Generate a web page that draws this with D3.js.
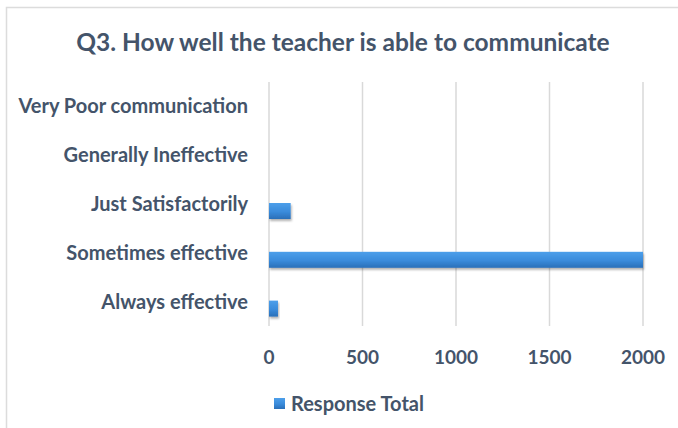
<!DOCTYPE html>
<html><head><meta charset="utf-8">
<script src="https://cdn.jsdelivr.net/npm/d3@7"></script>
<style>body{margin:0;background:#fff}svg{display:block}</style>
</head><body>
<script>
const categories = ["Very Poor communication","Generally Ineffective","Just Satisfactorily","Sometimes effective","Always effective"];
const values = [0, 0, 116, 2000, 48];
const xTicks = [0, 500, 1000, 1500, 2000];
const title = "Q3. How well the teacher is able to communicate";
const legendLabel = "Response Total";

const W = 678, H = 428;
const svg = d3.select("body").append("svg").attr("width", W).attr("height", H);
const defs = svg.append("defs");
const g1 = defs.append("linearGradient").attr("id","bar").attr("x1",0).attr("y1",0).attr("x2",0).attr("y2",1);
g1.append("stop").attr("offset","0%").attr("stop-color","#4d9fea");
g1.append("stop").attr("offset","55%").attr("stop-color","#3a8bdb");
g1.append("stop").attr("offset","100%").attr("stop-color","#2a6fb8");
const f = defs.append("filter").attr("id","sh").attr("x","-10%").attr("y","-30%").attr("width","130%").attr("height","180%");
f.append("feDropShadow").attr("dx",1).attr("dy",2).attr("stdDeviation",1.2).attr("flood-color","#000").attr("flood-opacity",0.3);

// frame
svg.append("rect").attr("x",6.5).attr("y",7.5).attr("width",W).attr("height",H).attr("fill","none").attr("stroke","#dcdcdc").attr("stroke-width",1.5);

const txt = "#44546a";
const font = "Lato, 'Open Sans', sans-serif";

svg.append("text").attr("x",343).attr("y",51).attr("text-anchor","middle")
  .attr("font-family",font).attr("font-size",24.5).attr("font-weight","bold").attr("fill",txt).text(title);

const x = d3.scaleLinear().domain([0,2000]).range([269,643]);
const y = d3.scaleBand().domain(categories).range([82,326]);

// gridlines
svg.append("g").selectAll("line").data(xTicks).join("line")
  .attr("x1",d=>x(d)).attr("x2",d=>x(d)).attr("y1",82).attr("y2",326)
  .attr("stroke","#d9d9d9").attr("stroke-width",1.5);

// bars
svg.append("g").selectAll("rect").data(categories.map((c,i)=>({c,v:values[i]})).filter(d=>d.v>0)).join("rect")
  .attr("x",x(0)).attr("y",d=>y(d.c)+y.bandwidth()/2-1).attr("height",16)
  .attr("width",d=>x(d.v)-x(0)).attr("fill","url(#bar)").attr("filter","url(#sh)");

// y labels
svg.append("g").selectAll("text").data(categories).join("text")
  .attr("x",248).attr("y",d=>y(d)+y.bandwidth()/2).attr("dy","0.35em").attr("text-anchor","end")
  .attr("font-family",font).attr("font-size",20).attr("font-weight","bold").attr("fill",txt).text(d=>d);

// x tick labels
svg.append("g").selectAll("text").data(xTicks).join("text")
  .attr("x",d=>x(d)).attr("y",357).attr("dy","0.35em").attr("text-anchor","middle")
  .attr("font-family",font).attr("font-size",19).attr("font-weight","bold").attr("fill",txt).text(d=>d);

// legend
svg.append("rect").attr("x",274).attr("y",398).attr("width",11).attr("height",11).attr("fill","url(#bar)");
svg.append("text").attr("x",291).attr("y",404).attr("dy","0.35em")
  .attr("font-family",font).attr("font-size",20).attr("font-weight","bold").attr("fill",txt).text(legendLabel);
</script>
</body></html>
